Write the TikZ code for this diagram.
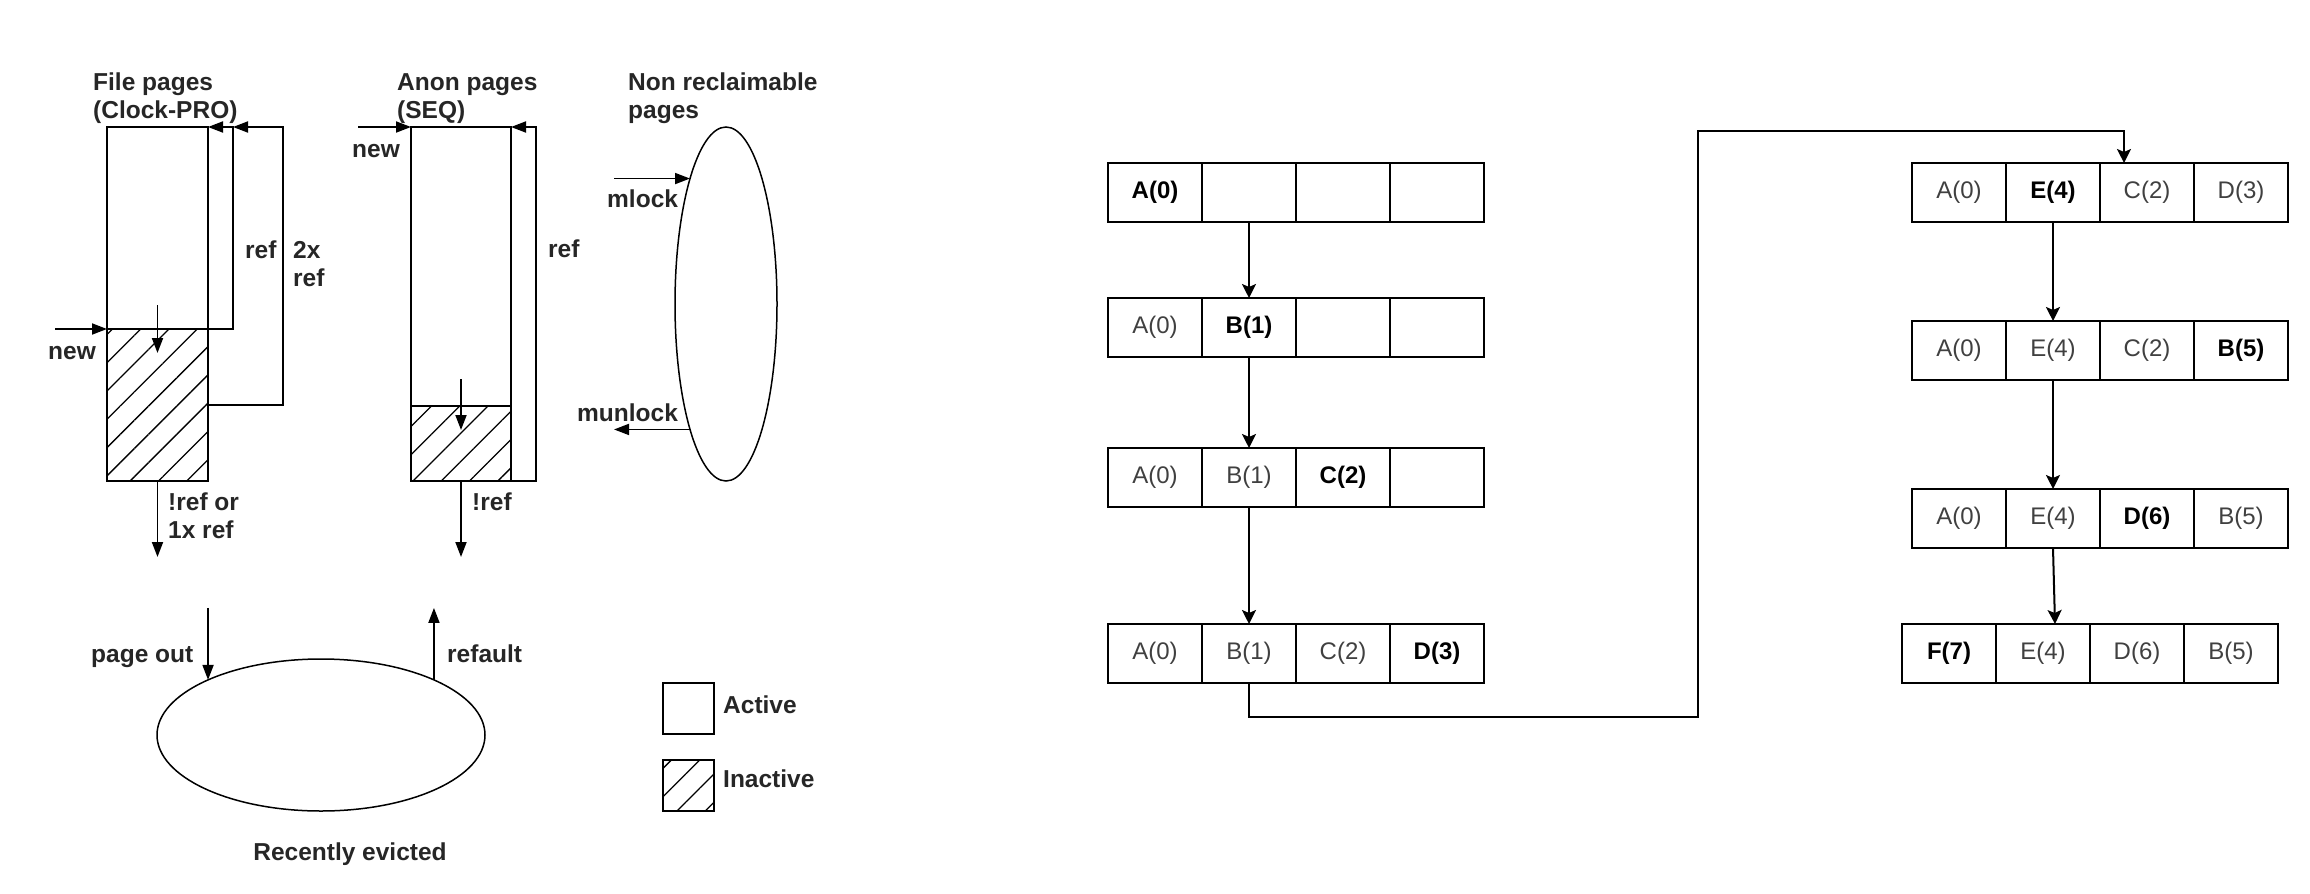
\documentclass[tikz,border=0pt]{standalone}
\usepackage{fontspec}
\setmainfont{Liberation Sans}
\usetikzlibrary{shapes.geometric, arrows.meta, positioning, patterns.meta}

\tikzstyle{note} = [inner sep=0pt, font=\fontsize{24.5}{28}\selectfont\bfseries, text=black!85, align=left]
\tikzstyle{active} = [rectangle, draw=black, line width=1.8pt, inner sep=0pt, outer sep=0pt, minimum width=101pt]
\tikzstyle{inactive} = [active, pattern={Lines[angle=45, distance=20pt, line width=1.3pt]}]
\tikzstyle{pool} = [ellipse, draw=black, line width=1.5pt, inner sep=0pt, outer sep=0pt]
\tikzstyle{flow} = [line width=1.8pt, -{Triangle[length=15pt, width=11pt]}]
\tikzstyle{cell} = [rectangle, draw=black, line width=2pt, minimum width=94pt, minimum height=59pt, inner sep=0pt, outer sep=0pt, font=\fontsize{24}{28}\selectfont, text=black!75]
\tikzstyle{newcell} = [cell, font=\fontsize{24}{28}\selectfont\bfseries, text=black]
\tikzstyle{edge} = [line width=2pt, -{Stealth[length=14pt, width=14pt, inset=3pt]}]

\begin{document}
\begin{tikzpicture}[x=1pt, y=-1pt]
\useasboundingbox (0,0) rectangle (2310,894);

% file pages
\node (filehead) [note, anchor=north west] at (93,73) {File pages\\(Clock-PRO)};
\node (fileact) [active, anchor=north west, minimum height=202pt] at (107,127) {};
\node (fileinact) [inactive, below=0pt of fileact, minimum height=152pt] {};
\coordinate (filenew) at ([xshift=-52pt]fileact.south west);
\coordinate (fileref) at ([xshift=25pt]fileact.north east);
\coordinate (fileout) at ([yshift=-76pt]fileinact.south);

\draw [flow] (filenew) -- (fileact.south west);
\draw [flow] ([yshift=24pt]fileact.south) -- ([yshift=-24pt]fileact.south);
\draw [flow] (fileact.south east) -- ++(25,0) |- (fileact.north east);
\draw [flow] (fileinact.east) -- ++(75,0) |- (fileref);
\draw [flow] (fileinact.south) -- (fileout);

\node [note, anchor=base west] at (48,359) {new};
\node [note, anchor=base west] at (245,258) {ref};
\node [note, anchor=north west] at (293,241) {2x\\ref};
\node [note, anchor=north west] at (168,493) {!ref or\\1x ref};

% anon pages
\node (anonhead) [note, anchor=north west] at (397,73) {Anon pages\\(SEQ)};
\node (anonact) [active, anchor=north west, minimum width=100pt, minimum height=279pt] at (411,127) {};
\node (anoninact) [inactive, below=0pt of anonact, minimum width=100pt, minimum height=75pt] {};
\coordinate (anonnew) at ([xshift=-53pt]anonact.north west);
\coordinate (anonout) at ([yshift=-76pt]anoninact.south);

\draw [flow] (anonnew) -- (anonact.north west);
\draw [flow] ([yshift=27pt]anoninact.north) -- ([yshift=-24pt]anoninact.north);
\draw [flow] (anoninact.south east) -- ++(25,0) |- (anonact.north east);
\draw [flow] (anoninact.south) -- (anonout);

\node [note, anchor=base west] at (352,157) {new};
\node [note, anchor=base west] at (548,257) {ref};
\node [note, anchor=base west] at (472,510) {!ref};

% non reclaimable pages
\node (lockhead) [note, anchor=north west] at (628,73) {Non reclaimable\\pages};
\node (locked) [pool, minimum width=102pt, minimum height=354pt] at (726,304) {};
\draw [flow] ([xshift=-76pt]locked.106) -- (locked.106);
\draw [flow] (locked.254) -- ([xshift=-76pt]locked.254);
\node [note, anchor=base west] at (607,207) {mlock};
\node [note, anchor=base west] at (577,421) {munlock};

% recently evicted
\node (evicted) [pool, minimum width=328pt, minimum height=152pt] at (321,735) {};
\draw [flow] ([yshift=72pt]evicted.154) -- (evicted.154);
\draw [flow] (evicted.26) -- ([yshift=72pt]evicted.26);
\node [note, anchor=base west] at (91,662) {page out};
\node [note, anchor=base west] at (447,662) {refault};
\node [note, anchor=base] at (350,860) {Recently evicted};

% legend
\node (legact) [active, anchor=north west, minimum width=51pt, minimum height=51pt] at (663,683) {};
\node (leginact) [inactive, anchor=north west, minimum width=51pt, minimum height=51pt] at (663,760) {};
\node [note, anchor=base west] at (723,713) {Active};
\node [note, anchor=base west] at (723,787) {Inactive};

% cache rows
\node (r1a) [newcell, anchor=north west] at (1108,163) {A(0)};
\node (r1b) [cell, right=0pt of r1a] {};
\node (r1c) [cell, right=0pt of r1b] {};
\node (r1d) [cell, right=0pt of r1c] {};

\node (r2a) [cell, anchor=north west] at (1108,298) {A(0)};
\node (r2b) [newcell, right=0pt of r2a] {B(1)};
\node (r2c) [cell, right=0pt of r2b] {};
\node (r2d) [cell, right=0pt of r2c] {};

\node (r3a) [cell, anchor=north west] at (1108,448) {A(0)};
\node (r3b) [cell, right=0pt of r3a] {B(1)};
\node (r3c) [newcell, right=0pt of r3b] {C(2)};
\node (r3d) [cell, right=0pt of r3c] {};

\node (r4a) [cell, anchor=north west] at (1108,624) {A(0)};
\node (r4b) [cell, right=0pt of r4a] {B(1)};
\node (r4c) [cell, right=0pt of r4b] {C(2)};
\node (r4d) [newcell, right=0pt of r4c] {D(3)};

\node (r5a) [cell, anchor=north west] at (1912,163) {A(0)};
\node (r5b) [newcell, right=0pt of r5a] {E(4)};
\node (r5c) [cell, right=0pt of r5b] {C(2)};
\node (r5d) [cell, right=0pt of r5c] {D(3)};

\node (r6a) [cell, anchor=north west] at (1912,321) {A(0)};
\node (r6b) [cell, right=0pt of r6a] {E(4)};
\node (r6c) [cell, right=0pt of r6b] {C(2)};
\node (r6d) [newcell, right=0pt of r6c] {B(5)};

\node (r7a) [cell, anchor=north west] at (1912,489) {A(0)};
\node (r7b) [cell, right=0pt of r7a] {E(4)};
\node (r7c) [newcell, right=0pt of r7b] {D(6)};
\node (r7d) [cell, right=0pt of r7c] {B(5)};

\node (r8a) [newcell, anchor=north west] at (1902,624) {F(7)};
\node (r8b) [cell, right=0pt of r8a] {E(4)};
\node (r8c) [cell, right=0pt of r8b] {D(6)};
\node (r8d) [cell, right=0pt of r8c] {B(5)};

\coordinate (bend1) at (1698,717);
\coordinate (bend2) at (1698,131);

\draw [edge] (r1b) -- (r2b);
\draw [edge] (r2b) -- (r3b);
\draw [edge] (r3b) -- (r4b);
\draw [edge] (r4b.south) |- (bend1) -- (bend2) -| ([xshift=-23pt]r5c.north);
\draw [edge] (r5b) -- (r6b);
\draw [edge] (r6b) -- (r7b);
\draw [edge] (r7b.south) -- ([xshift=12pt]r8b.north);

\end{tikzpicture}
\end{document}
